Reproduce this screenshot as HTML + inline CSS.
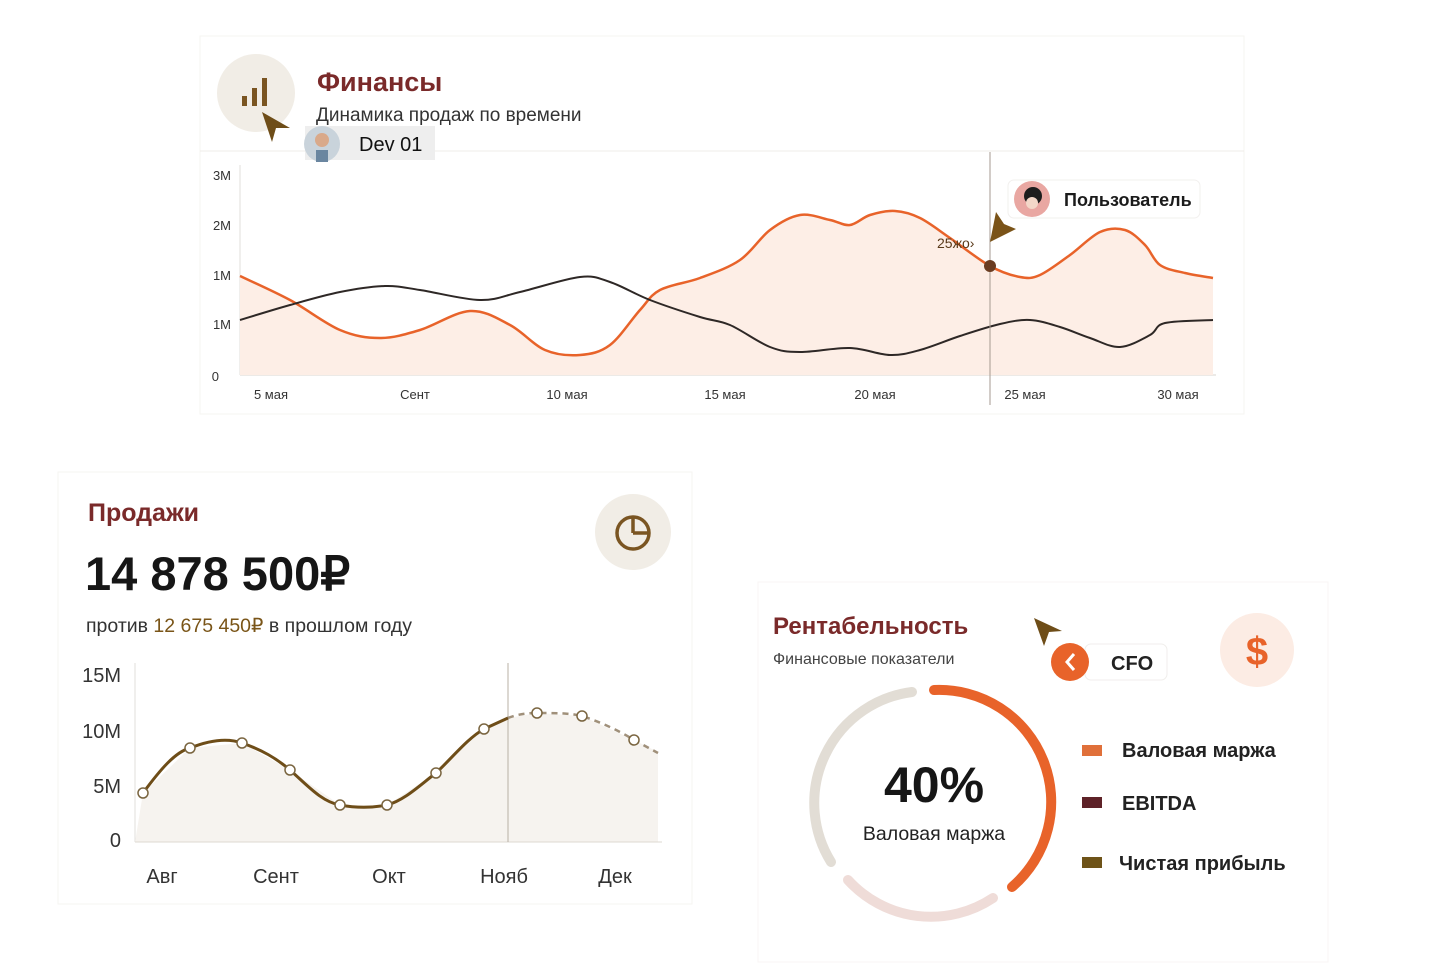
<!DOCTYPE html>
<html><head><meta charset="utf-8"><style>
body{margin:0;width:1439px;height:971px;background:#fff;font-family:"Liberation Sans","Noto Sans CJK SC",sans-serif;overflow:hidden;position:relative}
</style></head><body>
<svg width="1439" height="971" style="position:absolute;left:0;top:0" font-family="Liberation Sans, sans-serif">
<!-- top card -->
<rect x="200" y="36" width="1044" height="378" fill="#fff" stroke="#f6f4f2"/>
<line x1="200" y1="151" x2="1244" y2="151" stroke="#efece8"/>
<circle cx="256" cy="93" r="39" fill="#f1ede6"/>
<rect x="242" y="96" width="5" height="10" fill="#7a5522"/><rect x="252" y="88" width="5" height="18" fill="#7a5522"/><rect x="262" y="78" width="5" height="28" fill="#7a5522"/>
<polygon points="262,112 290,128 276,128 272,142" fill="#6e4d18"/>
<text x="317" y="91" font-size="27" font-weight="bold" fill="#7a2a2a">Финансы</text>
<text x="316" y="121" font-size="19" fill="#333">Динамика продаж по времени</text>
<rect x="305" y="126" width="130" height="34" fill="#eeeeee"/>
<circle cx="322" cy="144" r="18" fill="#c9d3db"/><circle cx="322" cy="140" r="7" fill="#d9a98a"/><rect x="316" y="150" width="12" height="12" fill="#6a86a0"/>
<text x="359" y="151" font-size="20" fill="#111">Dev 01</text>
<g font-size="13" fill="#333" text-anchor="end"><text x="231" y="180">3M</text><text x="231" y="230">2M</text><text x="231" y="280">1M</text><text x="231" y="329">1M</text><text x="219" y="381">0</text></g>
<line x1="240" y1="165" x2="240" y2="375" stroke="#e2dfdb"/>
<line x1="240" y1="375" x2="1216" y2="375" stroke="#d8d4cf"/>
<path id="oa" fill="#fdeee6" d=""/>
<polyline id="o" fill="none" stroke="#e8632a" stroke-width="2.5" stroke-linejoin="round" points="240,276 290,300 340,330 380,338 420,330 470,311 510,325 545,350 580,355 610,345 640,310 660,290 700,278 740,260 770,230 800,215 830,220 850,225 870,215 895,211 920,218 950,238 990,266 1020,277 1040,275 1070,255 1100,232 1125,230 1145,245 1160,265 1185,273 1213,278"/>
<polyline id="d" fill="none" stroke="#2e2826" stroke-width="2" stroke-linejoin="round" points="240,320 290,305 340,292 385,286 420,290 480,300 520,292 580,277 610,282 650,300 700,317 730,325 770,347 800,352 850,348 890,355 920,350 960,336 1000,324 1030,320 1060,327 1090,338 1120,347 1150,335 1165,323 1213,320"/>
<line x1="990" y1="152" x2="990" y2="405" stroke="#a59a90"/>
<circle cx="990" cy="266" r="6" fill="#6b3d22"/>
<text x="937" y="248" font-size="14" fill="#5a3a1a">25жо›</text>
<polygon points="990,242 1016,229 1004,224 996,212" fill="#7a5318"/>
<rect x="1008" y="180" width="192" height="38" rx="6" fill="#fff" stroke="#f2f0ee"/>
<circle cx="1032" cy="199" r="18" fill="#e9a7a2"/><circle cx="1033" cy="196" r="9" fill="#1d1d1d"/><circle cx="1032" cy="203" r="6" fill="#f3d7c8"/>
<text x="1064" y="206" font-size="18" font-weight="bold" fill="#1b1b1b">Пользователь</text>
<g font-size="13" fill="#333" text-anchor="middle"><text x="271" y="399">5 мая</text><text x="415" y="399">Сент</text><text x="567" y="399">10 мая</text><text x="725" y="399">15 мая</text><text x="875" y="399">20 мая</text><text x="1025" y="399">25 мая</text><text x="1178" y="399">30 мая</text></g>

<!-- sales card -->
<rect x="58" y="472" width="634" height="432" fill="#fff" stroke="#f6f4f2"/>
<text x="88" y="521" font-size="25" font-weight="bold" fill="#7a2a2a">Продажи</text>
<text x="85" y="590" font-size="47" font-weight="bold" fill="#161616">14 878 500₽</text>
<text x="86" y="632" font-size="19.5" fill="#333">против <tspan fill="#7a5518">12 675 450₽</tspan> в прошлом году</text>
<circle cx="633" cy="532" r="38" fill="#f1ede6"/>
<circle cx="633" cy="533" r="16" fill="none" stroke="#7a5522" stroke-width="3.5"/>
<path d="M633,533 L633,517 M633,533 L649,533" stroke="#7a5522" stroke-width="3.5"/>
<g font-size="20" fill="#333" text-anchor="end"><text x="121" y="682">15M</text><text x="121" y="738">10M</text><text x="121" y="793">5M</text><text x="121" y="847">0</text></g>
<line x1="135" y1="663" x2="135" y2="842" stroke="#e2dfdb"/>
<polygon fill="#f6f3ef" points="135,842 143,793 190,748 242,743 290,770 340,805 387,805 436,773 484,729 508,718 537,713 582,716 634,740 658,752 658,842"/>
<line x1="135" y1="842" x2="662" y2="842" stroke="#ddd8d2"/>
<line x1="508" y1="663" x2="508" y2="842" stroke="#b8b0a6"/>
<path d="M143,793 C160,770 175,752 190,748 C210,740 228,738 242,743 C262,750 276,758 290,770 C308,786 322,802 340,805 C356,808 372,808 387,805 C405,800 420,785 436,773 C452,758 468,738 484,729 L508,718" fill="none" stroke="#6e4d18" stroke-width="3"/>
<path d="M508,718 C518,714 528,713 537,713 C555,713 570,713 582,716 C600,722 618,730 634,740 L658,753" fill="none" stroke="#a0907a" stroke-width="2.5" stroke-dasharray="6,5"/>
<g fill="#fff" stroke="#7a6540" stroke-width="1.5"><circle cx="143" cy="793" r="5"/><circle cx="190" cy="748" r="5"/><circle cx="242" cy="743" r="5"/><circle cx="290" cy="770" r="5"/><circle cx="340" cy="805" r="5"/><circle cx="387" cy="805" r="5"/><circle cx="436" cy="773" r="5"/><circle cx="484" cy="729" r="5"/><circle cx="537" cy="713" r="5"/><circle cx="582" cy="716" r="5"/><circle cx="634" cy="740" r="5"/></g>
<g font-size="20" fill="#333" text-anchor="middle"><text x="162" y="883">Авг</text><text x="276" y="883">Сент</text><text x="389" y="883">Окт</text><text x="504" y="883">Нояб</text><text x="615" y="883">Дек</text></g>

<!-- profitability card -->
<rect x="758" y="582" width="570" height="380" fill="#fff" stroke="#f8f6f4"/>
<text x="773" y="634" font-size="24" font-weight="bold" fill="#7a2a2a">Рентабельность</text>
<text x="773" y="664" font-size="16" fill="#444">Финансовые показатели</text>
<polygon points="1034,618 1062,631 1049,632 1044,646" fill="#6e4d18"/>
<rect x="1085" y="644" width="82" height="36" rx="6" fill="#fff" stroke="#f0eeec"/>
<circle cx="1070" cy="662" r="19" fill="#e8632a"/>
<path d="M1074,654 L1067,662 L1074,670" fill="none" stroke="#fff" stroke-width="3"/>
<text x="1111" y="670" font-size="20" font-weight="bold" fill="#222">CFO</text>
<circle cx="1257" cy="650" r="37" fill="#fcece4"/>
<text x="1257" y="665" font-size="40" font-weight="bold" fill="#e8632a" text-anchor="middle">$</text>
<g fill="none" stroke-width="10" stroke-linecap="round">
<path d="M912,692 A112,112 0 0 0 831,862" stroke="#e2ddd5"/>
<path d="M848,880 A112,112 0 0 0 993,898" stroke="#efdcd8"/>
<path d="M934,690 A112,112 0 0 1 1012,887" stroke="#e8632a"/>
</g>
<text x="934" y="802" font-size="50" font-weight="bold" fill="#161616" text-anchor="middle">40%</text>
<text x="934" y="840" font-size="19.5" fill="#222" text-anchor="middle">Валовая маржа</text>
<rect x="1082" y="745" width="20" height="11" fill="#e0703a"/>
<rect x="1082" y="797" width="20" height="11" fill="#5e2228"/>
<rect x="1082" y="857" width="20" height="11" fill="#6e5318"/>
<g font-size="20" font-weight="bold" fill="#222"><text x="1122" y="757">Валовая маржа</text><text x="1122" y="810">EBITDA</text><text x="1119" y="870">Чистая прибыль</text></g>
</svg>
<script>
function sm(pts){var d="M"+pts[0][0]+","+pts[0][1];for(var i=0;i<pts.length-1;i++){var p0=pts[i-1]||pts[i],p1=pts[i],p2=pts[i+1],p3=pts[i+2]||p2;
d+=" C"+(p1[0]+(p2[0]-p0[0])/6)+","+(p1[1]+(p2[1]-p0[1])/6)+" "+(p2[0]-(p3[0]-p1[0])/6)+","+(p2[1]-(p3[1]-p1[1])/6)+" "+p2[0]+","+p2[1];}return d;}
function rep(id){var el=document.getElementById(id);var pts=el.getAttribute("points").trim().split(/\s+/).map(function(s){return s.split(",").map(Number)});
var p=document.createElementNS("http://www.w3.org/2000/svg","path");var d=sm(pts);p.setAttribute("d",d);
["fill","stroke","stroke-width"].forEach(function(a){p.setAttribute(a,el.getAttribute(a))});el.parentNode.replaceChild(p,el);return d;}
var od=rep("o");rep("d");
document.getElementById("oa").setAttribute("d",od+" L1213,375 L240,375 Z");
</script>
</body></html>
